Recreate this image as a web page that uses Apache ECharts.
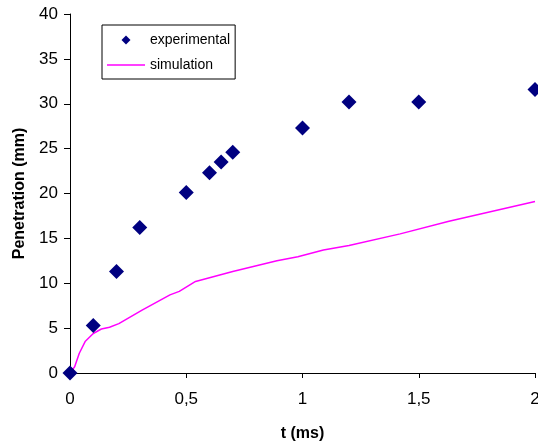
<!DOCTYPE html>
<html>
<head>
<meta charset="utf-8">
<script src="https://cdn.jsdelivr.net/npm/echarts@6/dist/echarts.min.js"></script>
<style>
html,body{margin:0;padding:0;background:#fff;}
#c{width:538px;height:445px;}
</style>
</head>
<body>
<div id="c"></div>
<script>
var expT = [0, 0.1, 0.2, 0.3, 0.5, 0.6, 0.65, 0.7, 1.0, 1.2, 1.5, 2.0];
var expP = [0, 5.3, 11.3, 16.2, 20.1, 22.3, 23.5, 24.6, 27.3, 30.2, 30.2, 31.6];

var simT = [0, 0.02, 0.04, 0.065, 0.1, 0.135, 0.17, 0.21, 0.31, 0.43, 0.47, 0.54, 0.7, 0.89, 0.98, 1.09, 1.2, 1.42, 1.63, 2.0];
var simP = [0, 0.7, 2.2, 3.5, 4.4, 4.9, 5.1, 5.5, 7.0, 8.7, 9.1, 10.2, 11.3, 12.5, 12.95, 13.7, 14.2, 15.5, 16.9, 19.1];

var xTicks = ['0', '0,5', '1', '1,5', '2'];
var yTicks = [0, 5, 10, 15, 20, 25, 30, 35, 40];

var expData = expT.map(function (t, i) { return [t, expP[i]]; });
var simData = simT.map(function (t, i) { return [t, simP[i]]; });

var chart = echarts.init(document.getElementById('c'), null, {renderer: 'canvas'});
var font = 'Liberation Sans, Arial, sans-serif';
chart.setOption({
  animation: false,
  backgroundColor: '#ffffff',
  grid: {left: 70, right: 3, top: 14, bottom: 72, containLabel: false, outerBoundsMode: 'none'},
  legend: {
    orient: 'vertical',
    left: 102,
    top: 25,
    padding: [8, 5, 7, 5],
    borderColor: '#000',
    borderWidth: 1,
    itemWidth: 38,
    itemHeight: 9,
    itemGap: 11,
    symbolKeepAspect: true,
    textStyle: {fontFamily: font, fontSize: 14, color: '#000', lineHeight: 14},
    data: [
      {name: 'experimental', icon: 'path://M0,-1L1,0L0,1L-1,0Z', itemStyle: {color: '#000080'}},
      {name: 'simulation', icon: 'path://M0,0L38,0L38,1.5L0,1.5Z', itemStyle: {color: '#FF00FF'}}
    ]
  },
  xAxis: {
    type: 'value',
    min: 0, max: 2, interval: 0.5,
    name: 't (ms)',
    nameLocation: 'middle',
    nameGap: 53,
    nameTextStyle: {fontFamily: font, fontSize: 16, fontWeight: 'bold', color: '#000'},
    axisLine: {show: true, onZero: false, lineStyle: {color: '#000', width: 1}},
    axisTick: {show: true, inside: false, length: 5, lineStyle: {color: '#000'}},
    axisLabel: {
      fontFamily: font, fontSize: 17, color: '#000', margin: 18,
      formatter: function (v) { var i = Math.round(v / 0.5); return xTicks[i]; }
    },
    splitLine: {show: false}
  },
  yAxis: {
    type: 'value',
    min: yTicks[0], max: yTicks[yTicks.length - 1], interval: 5,
    name: 'Penetration (mm)',
    nameLocation: 'middle',
    nameGap: 42,
    nameTextStyle: {fontFamily: font, fontSize: 16, fontWeight: 'bold', color: '#000'},
    axisLine: {show: true, lineStyle: {color: '#000', width: 1}},
    axisTick: {show: true, inside: false, length: 6, lineStyle: {color: '#000'}},
    axisLabel: {fontFamily: font, fontSize: 17, color: '#000', margin: 12},
    splitLine: {show: false}
  },
  series: [
    {
      name: 'experimental',
      type: 'scatter',
      symbol: 'diamond',
      symbolSize: 15,
      itemStyle: {color: '#000080', opacity: 1},
      data: expData,
      z: 3
    },
    {
      name: 'simulation',
      type: 'line',
      symbol: 'none',
      smooth: false,
      lineStyle: {color: '#FF00FF', width: 1.5},
      itemStyle: {color: '#FF00FF'},
      data: simData,
      z: 2
    }
  ]
});
</script>
</body>
</html>
